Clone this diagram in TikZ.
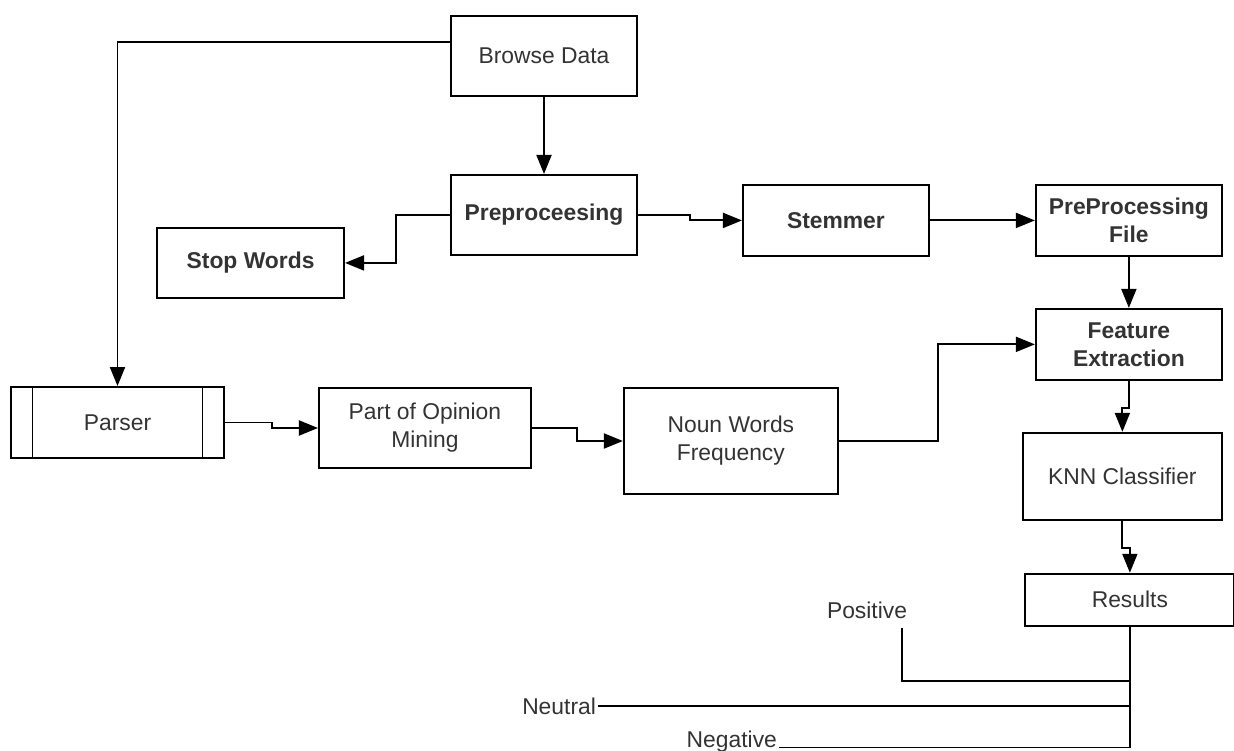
\documentclass[tikz,border=0pt]{standalone}
\usepackage{fontspec}
\setmainfont{Liberation Sans}
\usetikzlibrary{arrows.meta, positioning}

\begin{document}
\begin{tikzpicture}[
        node distance=2cm,
        >={Triangle[length=0.38cm, width=0.3cm]},
        process/.style={
            rectangle,
            draw=black,
            line width=1.1pt,
            align=center,
            text=black!80,
            font=\fontsize{13}{16}\selectfont,
            inner sep=2pt
        },
        keyprocess/.style={
            process,
            font=\fontsize{13}{16}\selectfont\bfseries
        },
        subprocess/.style={
            process,
            path picture={
                \draw [line width=1.1pt] ([xshift=0.43cm]path picture bounding box.north west) -- ([xshift=0.43cm]path picture bounding box.south west);
                \draw [line width=1.1pt] ([xshift=-0.43cm]path picture bounding box.north east) -- ([xshift=-0.43cm]path picture bounding box.south east);
            }
        },
        outcome/.style={
            text=black!80,
            font=\fontsize{13}{16}\selectfont,
            inner sep=1pt
        },
        arrow/.style={
            ->,
            line width=1.1pt
        },
        link/.style={
            line width=1.1pt
        }
    ]

    \useasboundingbox (0,0) rectangle (24.68,-15.02);

    \node (browse) [process, minimum width=3.72cm, minimum height=1.6cm] at (10.88,-1.12) {Browse Data};

    \node (preproc) [keyprocess, minimum width=3.72cm, minimum height=1.6cm, below=1.54cm of browse] {Preproceesing};

    \node (stopwords) [keyprocess, minimum width=3.74cm, minimum height=1.4cm, left=2.1cm of preproc, yshift=-0.96cm] {Stop Words};

    \node (stemmer) [keyprocess, minimum width=3.72cm, minimum height=1.42cm, right=2.08cm of preproc, yshift=-0.11cm] {Stemmer};

    \node (ppfile) [keyprocess, minimum width=3.72cm, minimum height=1.42cm, right=2.1cm of stemmer] {PreProcessing\\File};

    \node (feature) [keyprocess, minimum width=3.72cm, minimum height=1.42cm, below=1.02cm of ppfile] {Feature\\Extraction};

    \node (knn) [process, minimum width=3.98cm, minimum height=1.74cm, below=1.02cm of feature, xshift=-0.13cm] {KNN Classifier};

    \node (results) [process, minimum width=4.18cm, minimum height=1.04cm, below=1.04cm of knn, xshift=0.15cm] {Results};

    \node (parser) [subprocess, minimum width=4.26cm, minimum height=1.42cm] at (2.35,-8.45) {Parser};

    \node (opinion) [process, minimum width=4.24cm, minimum height=1.6cm, right=1.86cm of parser, yshift=-0.11cm] {Part of Opinion\\Mining};

    \node (noun) [process, minimum width=4.28cm, minimum height=2.12cm, right=1.82cm of opinion, yshift=-0.26cm] {Noun Words\\Frequency};

    % outcomes of the classifier
    \node (positive) [outcome] at (17.34,-12.2) {Positive};
    \node (neutral) [outcome, anchor=east] at (11.96,-14.12) {Neutral};
    \node (negative) [outcome, anchor=base east] at (15.58,-14.95) {Negative};
    \coordinate (posend) at (18.04,-12.56);

    \draw [arrow] (browse) -- (preproc);

    \draw [arrow] ([yshift=0.28cm]browse.west) -| (parser.north);

    \draw [arrow] (preproc.west) -- ++(-1.08,0) |- (stopwords.east);

    \draw [arrow] (preproc.east) -- ++(1.04,0) |- (stemmer.west);

    \draw [arrow] (stemmer) -- (ppfile);

    \draw [arrow] (ppfile) -- (feature);

    \draw [arrow] (feature.south) -- ++(0,-0.54) -| (knn.north);

    \draw [arrow] (knn.south) -- ++(0,-0.54) -| (results.north);

    \draw [arrow] (parser.east) -- ++(0.94,0) |- (opinion.west);

    \draw [arrow] (opinion.east) -- ++(0.9,0) |- (noun.west);

    \draw [arrow] (noun.east) -- ++(1.98,0) |- (feature.west);

    \draw [link] (results.south) -- (results.south |- negative.base) -- (negative.base east);

    \draw [link] (posend) |- ([yshift=-1.08cm]results.south);

    \draw [link] (neutral.east) -- (neutral.east -| results.south);

    \end{tikzpicture}
\end{document}
